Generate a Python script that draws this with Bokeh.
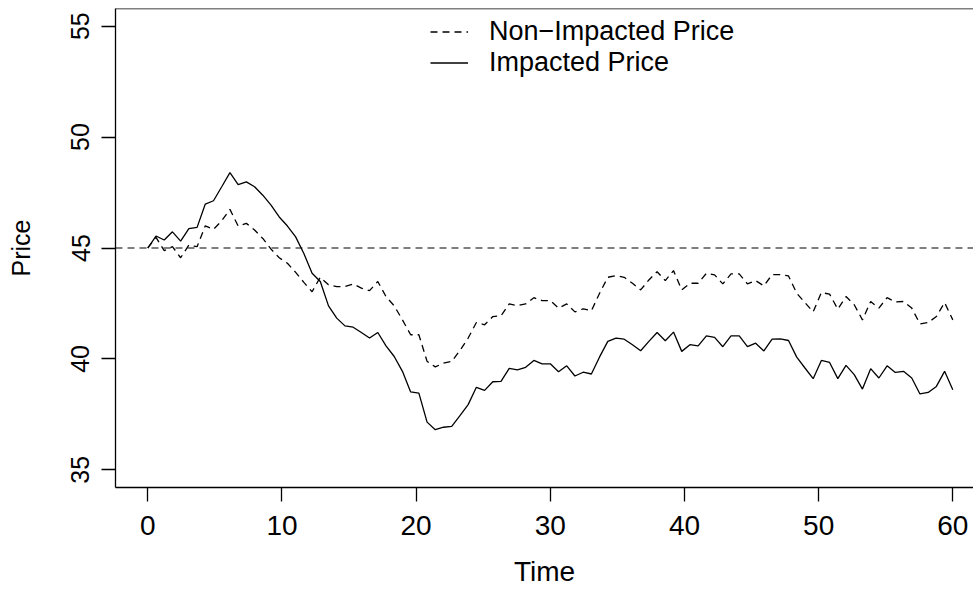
import numpy as np
from bokeh.plotting import figure
from bokeh.models import Range1d, FixedTicker, Span, Legend, LegendItem
from bokeh.embed import file_html
from bokeh.resources import INLINE

# ---- data ----
time = np.linspace(0, 60, 99)

non_impacted = [
    45.00, 45.48, 44.88, 45.06, 44.56, 45.13, 45.06, 46.00, 45.84, 46.23,
    46.74, 45.99, 46.11, 45.81, 45.43, 44.95, 44.56, 44.31, 43.90, 43.45,
    43.03, 43.68, 43.34, 43.26, 43.26, 43.38, 43.19, 43.08, 43.49, 42.81,
    42.39, 41.76, 41.09, 41.09, 39.89, 39.64, 39.81, 39.89, 40.38, 40.94,
    41.64, 41.54, 41.91, 41.94, 42.48, 42.40, 42.48, 42.76, 42.63, 42.63,
    42.29, 42.48, 42.12, 42.26, 42.17, 42.96, 43.68, 43.75, 43.68, 43.41,
    43.11, 43.56, 43.93, 43.53, 43.98, 43.11, 43.41, 43.41, 43.86, 43.79,
    43.38, 43.83, 43.83, 43.38, 43.53, 43.29, 43.80, 43.80, 43.74, 42.96,
    42.54, 42.12, 42.99, 42.92, 42.24, 42.81, 42.44, 41.76, 42.59, 42.29,
    42.76, 42.57, 42.59, 42.29, 41.58, 41.64, 41.91, 42.54, 41.76,
]

impacted = [
    45.00, 45.54, 45.36, 45.73, 45.31, 45.87, 45.93, 46.98, 47.13, 47.76,
    48.40, 47.86, 47.98, 47.76, 47.38, 46.93, 46.40, 45.99, 45.50, 44.75,
    43.86, 43.49, 42.39, 41.84, 41.49, 41.43, 41.19, 40.94, 41.19, 40.59,
    40.11, 39.44, 38.51, 38.46, 37.15, 36.81, 36.92, 36.96, 37.44, 37.94,
    38.72, 38.58, 38.97, 38.99, 39.57, 39.51, 39.62, 39.93, 39.78, 39.78,
    39.42, 39.69, 39.23, 39.40, 39.32, 40.09, 40.79, 40.94, 40.89, 40.64,
    40.37, 40.79, 41.19, 40.82, 41.21, 40.34, 40.64, 40.59, 41.04, 40.97,
    40.55, 41.04, 41.04, 40.55, 40.71, 40.36, 40.89, 40.90, 40.83, 40.08,
    39.59, 39.11, 39.93, 39.84, 39.11, 39.71, 39.29, 38.64, 39.56, 39.14,
    39.69, 39.39, 39.44, 39.14, 38.42, 38.49, 38.76, 39.44, 38.61,
]

reference_price = 45
x_ticks = [0, 10, 20, 30, 40, 50, 60]
y_ticks = [35, 40, 45, 50, 55]
labels = ["Non\u2212Impacted Price", "Impacted Price"]
x_title = "Time"
y_title = "Price"

FONT = "Liberation Sans"
H_SIZE = "28px"   # horizontal axis texts
L_SIZE = "27px"   # legend texts
V_SIZE = "25px"   # vertical texts
DASH = "7 5"

x_range = Range1d(-2.407, 61.542)
y_range = Range1d(34.204, 55.796)

p = figure(
    width=973, height=589,
    x_range=x_range, y_range=y_range,
    output_backend="svg", toolbar_location=None,
    min_border_left=115, min_border_right=0,
    min_border_top=8, min_border_bottom=101,
)
p.background_fill_color = "white"
p.border_fill_color = "white"
p.outline_line_color = None
p.xgrid.visible = False
p.ygrid.visible = False

# x axis
xa = p.xaxis[0]
xa.ticker = FixedTicker(ticks=x_ticks)
xa.minor_tick_line_color = None
xa.major_tick_in = 0
xa.major_tick_out = 14
xa.major_tick_line_width = 1.3
xa.axis_line_width = 1.3
xa.major_label_text_font = FONT
xa.major_label_text_font_size = H_SIZE
xa.major_label_text_color = "black"
xa.major_label_standoff = 14
xa.axis_label = x_title
xa.axis_label_text_font = FONT
xa.axis_label_text_font_size = H_SIZE
xa.axis_label_text_font_style = "normal"
xa.axis_label_text_color = "black"
xa.axis_label_standoff = 18

# y axis
ya = p.yaxis[0]
ya.ticker = FixedTicker(ticks=y_ticks)
ya.minor_tick_line_color = None
ya.major_tick_in = 0
ya.major_tick_out = 14
ya.major_tick_line_width = 1.3
ya.axis_line_width = 1.3
ya.major_label_orientation = "vertical"
ya.major_label_text_font = FONT
ya.major_label_text_font_size = V_SIZE
ya.major_label_text_color = "black"
ya.major_label_standoff = 12
ya.axis_label = y_title
ya.axis_label_text_font = FONT
ya.axis_label_text_font_size = V_SIZE
ya.axis_label_text_font_style = "normal"
ya.axis_label_text_color = "black"
ya.axis_label_standoff = 34

# top edge of the box (right edge lies outside the picture)
p.add_layout(Span(location=y_range.end, dimension="width",
                  line_color="black", line_width=1.3))

# horizontal reference line
p.add_layout(Span(location=reference_price, dimension="width",
                  line_color="black", line_width=1.2, line_dash=DASH))

r_dash = p.line(time, non_impacted, line_color="black", line_width=1.3,
                line_dash=DASH)
r_solid = p.line(time, impacted, line_color="black", line_width=1.3)

common = dict(glyph_width=38, glyph_height=27, label_height=27,
              label_standoff=21, spacing=0, padding=0, margin=0,
              border_line_color=None, background_fill_alpha=0,
              label_text_font=FONT, label_text_font_size=L_SIZE,
              label_text_color="black")
p.add_layout(Legend(items=[LegendItem(label=labels[0], renderers=[r_dash])],
                    location=(315, 440), **common))
p.add_layout(Legend(items=[LegendItem(label=labels[1], renderers=[r_solid])],
                    location=(315, 409), **common))

open("out.html", "w").write(file_html(p, INLINE))
